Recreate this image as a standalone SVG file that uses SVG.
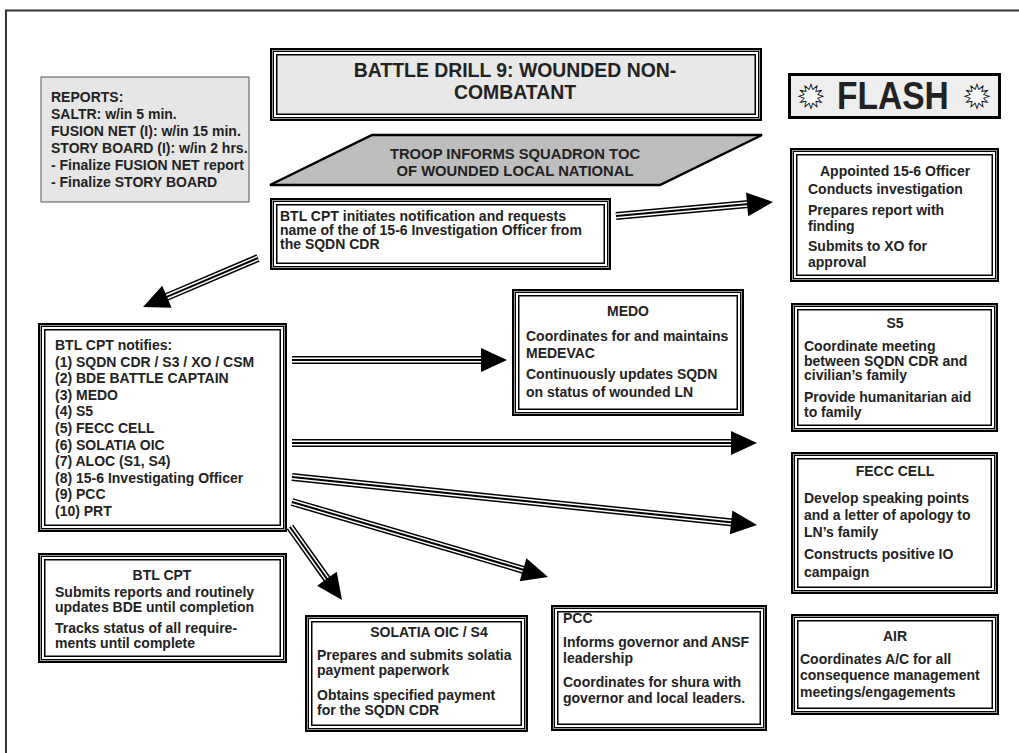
<svg xmlns="http://www.w3.org/2000/svg" width="1019" height="753" viewBox="0 0 1019 753">
<style>
.t{font-family:"Liberation Sans",Arial,Helvetica,sans-serif;font-weight:bold;font-size:14px;fill:#222}
.m{text-anchor:middle}
.b1{fill:#fff;stroke:#000;stroke-width:2}
.b2{fill:none;stroke:#999;stroke-width:1}
.b3{fill:none;stroke:#000;stroke-width:1}
.b4{fill:#fff;stroke:#000;stroke-width:1.5}
.g4{fill:#e8e8e8;stroke:#000;stroke-width:1.5}
.s1{stroke:#000;stroke-width:8;fill:none}
.s2{stroke:#fff;stroke-width:5;fill:none}
.s3{stroke:#000;stroke-width:2;fill:none}
.hd{fill:#000}
.sf{font-family:"DejaVu Sans",sans-serif;font-size:32px;fill:#fff;stroke:#000;stroke-width:0.8;text-anchor:middle}
</style>
<rect x="0" y="0" width="1019" height="753" fill="#fff"/>
<rect x="6" y="10.5" width="1100" height="900" fill="none" stroke="#333" stroke-width="2"/>

<g id="connectors">
  <g><line class="s1" x1="616" y1="216" x2="749" y2="204.1"/><line class="s2" x1="616" y1="216" x2="749" y2="204.1"/><line class="s3" x1="616" y1="216" x2="749" y2="204.1"/><polygon class="hd" points="773,202 748.2,216.3 746,192.4"/></g>
  <g><line class="s1" x1="258" y1="258" x2="165" y2="297.6"/><line class="s2" x1="258" y1="258" x2="165" y2="297.6"/><line class="s3" x1="258" y1="258" x2="165" y2="297.6"/><polygon class="hd" points="143,307 162.2,285.8 171.6,307.8"/></g>
  <g><line class="s1" x1="292" y1="360" x2="483" y2="360"/><line class="s2" x1="292" y1="360" x2="483" y2="360"/><line class="s3" x1="292" y1="360" x2="483" y2="360"/><polygon class="hd" points="507,360 481,348 481,372"/></g>
  <g><line class="s1" x1="292" y1="443" x2="733" y2="443"/><line class="s2" x1="292" y1="443" x2="733" y2="443"/><line class="s3" x1="292" y1="443" x2="733" y2="443"/><polygon class="hd" points="757,443 731,431 731,455"/></g>
  <g><line class="s1" x1="292" y1="477" x2="733" y2="522.5"/><line class="s2" x1="292" y1="477" x2="733" y2="522.5"/><line class="s3" x1="292" y1="477" x2="733" y2="522.5"/><polygon class="hd" points="757,525 729.9,534.3 732.4,510.4"/></g>
  <g><line class="s1" x1="292" y1="502" x2="525" y2="570.3"/><line class="s2" x1="292" y1="502" x2="525" y2="570.3"/><line class="s3" x1="292" y1="502" x2="525" y2="570.3"/><polygon class="hd" points="548,577 519.7,581.2 526.4,558.2"/></g>
  <g><line class="s1" x1="290" y1="527" x2="328" y2="580.4"/><line class="s2" x1="290" y1="527" x2="328" y2="580.4"/><line class="s3" x1="290" y1="527" x2="328" y2="580.4"/><polygon class="hd" points="342,600 317.1,585.8 336.7,571.8"/></g>
</g>

<g id="reports">
  <rect x="41" y="77" width="208" height="125" fill="#e6e6e6" stroke="#555" stroke-width="1"/>
  <text class="t" x="51" y="101.5">REPORTS:</text>
  <text class="t" x="51" y="119">SALTR: w/in 5 min.</text>
  <text class="t" x="51" y="136">FUSION NET (I): w/in 15 min.</text>
  <text class="t" x="51" y="153">STORY BOARD (I): w/in 2 hrs.</text>
  <text class="t" x="51" y="170">- Finalize FUSION NET report</text>
  <text class="t" x="51" y="187">- Finalize STORY BOARD</text>
</g>

<g id="title">
  <rect class="b1" x="271" y="49" width="490" height="71"/>
  <rect class="b2" x="272.5" y="50.5" width="487" height="68"/>
  <rect class="b3" x="273.5" y="51.5" width="485" height="66"/>
  <rect class="g4" x="276.75" y="54.75" width="478.5" height="59.5"/>
  <text class="t m" x="515" y="77" style="font-size:19.4px">BATTLE DRILL 9: WOUNDED NON-</text>
  <text class="t m" x="515" y="99" style="font-size:19.4px">COMBATANT</text>
</g>

<g id="flash">
  <rect x="789.5" y="74.5" width="210" height="43" fill="#eee" stroke="#000" stroke-width="3"/>
  <text class="t" x="0" y="0" transform="translate(837,109) scale(0.86,1)" style="font-size:39px">FLASH</text>
  <text class="sf" x="811" y="108">✹</text>
  <text class="sf" x="977" y="108">✹</text>
</g>

<g id="troop">
  <polygon points="270,185 372,135 762,135 660,185" fill="#bdbdbd" stroke="#000" stroke-width="2.5" stroke-linejoin="miter"/>
  <text class="t m" x="515" y="159" style="font-size:14.8px">TROOP INFORMS SQUADRON TOC</text>
  <text class="t m" x="515" y="176" style="font-size:14.8px">OF WOUNDED LOCAL NATIONAL</text>
</g>

<g id="initiates">
  <rect class="b1" x="271" y="199" width="339" height="70"/>
  <rect class="b2" x="272.5" y="200.5" width="336" height="67"/>
  <rect class="b3" x="273.5" y="201.5" width="334" height="65"/>
  <rect class="b4" x="276.75" y="204.75" width="327.5" height="58.5"/>
  <text class="t" x="280" y="221">BTL CPT initiates notification and requests</text>
  <text class="t" x="280" y="235">name of the of 15-6 Investigation Officer from</text>
  <text class="t" x="280" y="249">the SQDN CDR</text>
</g>

<g id="appointed">
  <rect class="b1" x="791" y="149" width="207" height="132"/>
  <rect class="b2" x="792.5" y="150.5" width="204" height="129"/>
  <rect class="b3" x="793.5" y="151.5" width="202" height="127"/>
  <rect class="b4" x="796.75" y="154.75" width="195.5" height="120.5"/>
  <text class="t" x="820" y="176">Appointed 15-6 Officer</text>
  <text class="t" x="808" y="194">Conducts investigation</text>
  <text class="t" x="808" y="215">Prepares report with</text>
  <text class="t" x="808" y="231">finding</text>
  <text class="t" x="808" y="251">Submits to XO for</text>
  <text class="t" x="808" y="267">approval</text>
</g>

<g id="medo">
  <rect class="b1" x="513" y="290" width="230" height="125"/>
  <rect class="b2" x="514.5" y="291.5" width="227" height="122"/>
  <rect class="b3" x="515.5" y="292.5" width="225" height="120"/>
  <rect class="b4" x="518.75" y="295.75" width="218.5" height="113.5"/>
  <text class="t m" x="628" y="316">MEDO</text>
  <text class="t" x="526" y="341">Coordinates for and maintains</text>
  <text class="t" x="526" y="358">MEDEVAC</text>
  <text class="t" x="526" y="379">Continuously updates SQDN</text>
  <text class="t" x="526" y="397">on status of wounded LN</text>
</g>

<g id="s5">
  <rect class="b1" x="792" y="304" width="205" height="127"/>
  <rect class="b2" x="793.5" y="305.5" width="202" height="124"/>
  <rect class="b3" x="794.5" y="306.5" width="200" height="122"/>
  <rect class="b4" x="797.75" y="309.75" width="193.5" height="115.5"/>
  <text class="t m" x="895" y="328">S5</text>
  <text class="t" x="804" y="351">Coordinate meeting</text>
  <text class="t" x="804" y="365.5">between SQDN CDR and</text>
  <text class="t" x="804" y="380">civilian’s family</text>
  <text class="t" x="804" y="402">Provide humanitarian aid</text>
  <text class="t" x="804" y="416.5">to family</text>
</g>

<g id="fecc">
  <rect class="b1" x="792" y="453" width="205" height="140"/>
  <rect class="b2" x="793.5" y="454.5" width="202" height="137"/>
  <rect class="b3" x="794.5" y="455.5" width="200" height="135"/>
  <rect class="b4" x="797.75" y="458.75" width="193.5" height="128.5"/>
  <text class="t m" x="895" y="476">FECC CELL</text>
  <text class="t" x="804" y="503">Develop speaking points</text>
  <text class="t" x="804" y="520">and a letter of apology to</text>
  <text class="t" x="804" y="537">LN’s family</text>
  <text class="t" x="804" y="559">Constructs positive IO</text>
  <text class="t" x="804" y="577">campaign</text>
</g>

<g id="air">
  <rect class="b1" x="792" y="615" width="206" height="99"/>
  <rect class="b2" x="793.5" y="616.5" width="203" height="96"/>
  <rect class="b3" x="794.5" y="617.5" width="201" height="94"/>
  <rect class="b4" x="797.75" y="620.75" width="194.5" height="87.5"/>
  <text class="t m" x="895" y="641">AIR</text>
  <text class="t" x="800" y="664">Coordinates A/C for all</text>
  <text class="t" x="800" y="680">consequence management</text>
  <text class="t" x="800" y="697">meetings/engagements</text>
</g>

<g id="pcc">
  <rect class="b1" x="552" y="606" width="214" height="124"/>
  <rect class="b2" x="553.5" y="607.5" width="211" height="121"/>
  <rect class="b3" x="554.5" y="608.5" width="209" height="119"/>
  <rect class="b4" x="557.75" y="611.75" width="202.5" height="112.5"/>
  <text class="t" x="563" y="623">PCC</text>
  <text class="t" x="563" y="647">Informs governor and ANSF</text>
  <text class="t" x="563" y="663">leadership</text>
  <text class="t" x="563" y="687">Coordinates for shura with</text>
  <text class="t" x="563" y="703">governor and local leaders.</text>
</g>

<g id="solatia">
  <rect class="b1" x="306" y="616" width="221" height="115"/>
  <rect class="b2" x="307.5" y="617.5" width="218" height="112"/>
  <rect class="b3" x="308.5" y="618.5" width="216" height="110"/>
  <rect class="b4" x="311.75" y="621.75" width="209.5" height="103.5"/>
  <text class="t m" x="429" y="637">SOLATIA OIC / S4</text>
  <text class="t" x="317" y="660">Prepares and submits solatia</text>
  <text class="t" x="317" y="675">payment paperwork</text>
  <text class="t" x="317" y="700">Obtains specified payment</text>
  <text class="t" x="317" y="715">for the SQDN CDR</text>
</g>

<g id="btlcpt">
  <rect class="b1" x="39" y="554" width="247" height="108"/>
  <rect class="b2" x="40.5" y="555.5" width="244" height="105"/>
  <rect class="b3" x="41.5" y="556.5" width="242" height="103"/>
  <rect class="b4" x="44.75" y="559.75" width="235.5" height="96.5"/>
  <text class="t m" x="162" y="580">BTL CPT</text>
  <text class="t" x="55" y="597">Submits reports and routinely</text>
  <text class="t" x="55" y="612">updates BDE until completion</text>
  <text class="t" x="55" y="633">Tracks status of all require-</text>
  <text class="t" x="55" y="648">ments until complete</text>
</g>

<g id="notifies">
  <rect class="b1" x="39" y="324" width="247" height="207"/>
  <rect class="b2" x="40.5" y="325.5" width="244" height="204"/>
  <rect class="b3" x="41.5" y="326.5" width="242" height="202"/>
  <rect class="b4" x="44.75" y="329.75" width="235.5" height="195.5"/>
  <text class="t" x="55" y="350">BTL CPT notifies:</text>
  <text class="t" x="55" y="366.6">(1) SQDN CDR / S3 / XO / CSM</text>
  <text class="t" x="55" y="383.2">(2) BDE BATTLE CAPTAIN</text>
  <text class="t" x="55" y="399.8">(3) MEDO</text>
  <text class="t" x="55" y="416.4">(4) S5</text>
  <text class="t" x="55" y="433">(5) FECC CELL</text>
  <text class="t" x="55" y="449.6">(6) SOLATIA OIC</text>
  <text class="t" x="55" y="466.2">(7) ALOC (S1, S4)</text>
  <text class="t" x="55" y="482.8">(8) 15-6 Investigating Officer</text>
  <text class="t" x="55" y="499.4">(9) PCC</text>
  <text class="t" x="55" y="516">(10) PRT</text>
</g>
</svg>
